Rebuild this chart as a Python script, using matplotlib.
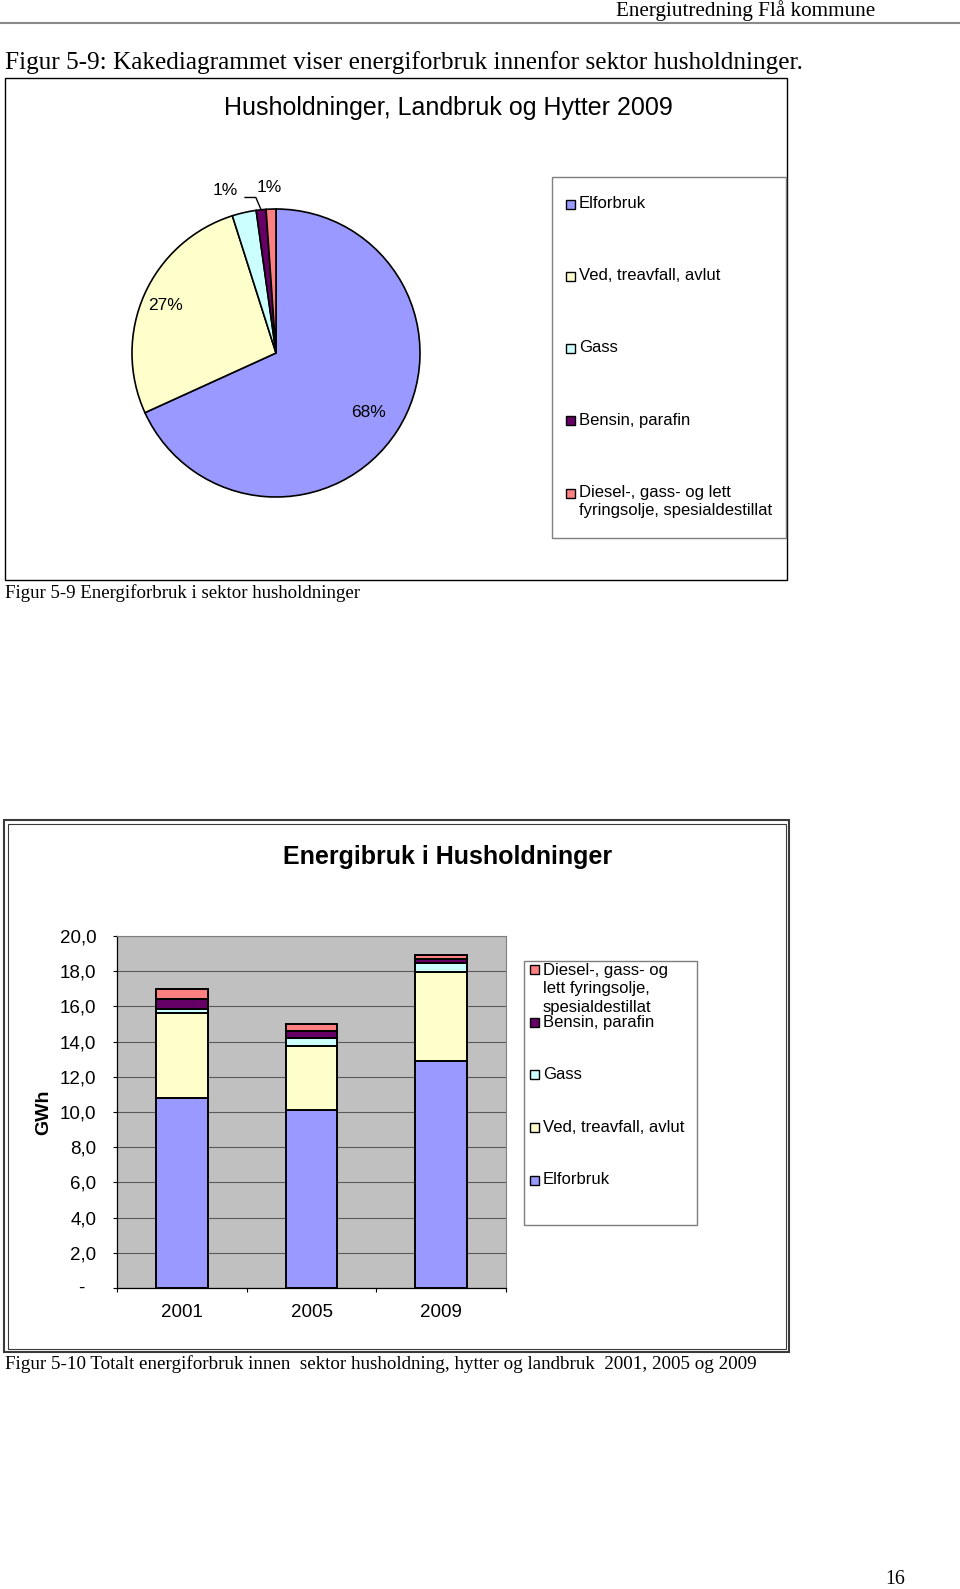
import textwrap
import numpy as np
import matplotlib
matplotlib.use("Agg")
import matplotlib.pyplot as plt
from matplotlib.patches import Rectangle
from matplotlib.lines import Line2D
from matplotlib.transforms import blended_transform_factory

# ---------------- data ----------------
series = ["Elforbruk", "Ved, treavfall, avlut", "Gass", "Bensin, parafin",
          "Diesel-, gass- og lett fyringsolje, spesialdestillat"]
colors = ["#9999FF", "#FFFFCC", "#CCFFFF", "#660066", "#FF8080"]

pie_title = "Husholdninger, Landbruk og Hytter 2009"
pie_pct = [68.2, 26.9, 2.7, 1.1, 1.1]
pie_labels = ["68%", "27%", "", "1%", "1%"]

bar_title = "Energibruk i Husholdninger"
years = ["2001", "2005", "2009"]
elforbruk = [10.8, 10.1, 12.9]
ved = [4.85, 3.65, 5.05]
gass = [0.2, 0.45, 0.5]
bensin = [0.55, 0.4, 0.25]
diesel = [0.6, 0.4, 0.2]
bar_series = [elforbruk, ved, gass, bensin, diesel]
yticks = [0, 2, 4, 6, 8, 10, 12, 14, 16, 18, 20]
ytick_labels = ["", "2,0", "4,0", "6,0", "8,0", "10,0", "12,0", "14,0", "16,0", "18,0", "20,0"]
y_label = "GWh"

header = "Energiutredning Flå kommune"
heading = "Figur 5-9: Kakediagrammet viser energiforbruk innenfor sektor husholdninger."
caption1 = "Figur 5-9 Energiforbruk i sektor husholdninger"
caption2 = "Figur 5-10 Totalt energiforbruk innen  sektor husholdning, hytter og landbruk  2001, 2005 og 2009"
page_no = "16"

# ---------------- layout helpers ----------------
W, H, DPI = 960, 1589, 100
SANS = "Liberation Sans"
SERIF = "Liberation Serif"
fig = plt.figure(figsize=(W / DPI, H / DPI), dpi=DPI)
fig.patch.set_facecolor("white")


def fx(px):
    return px / W


def fy(py):
    return 1 - py / H


def add_ax(x0, y0, x1, y1):
    return fig.add_axes([x0 / W, 1 - y1 / H, (x1 - x0) / W, (y1 - y0) / H])


def frect(x0, y0, x1, y1, **kw):
    r = Rectangle((fx(x0), fy(y1)), (x1 - x0) / W, (y1 - y0) / H,
                  transform=fig.transFigure, **kw)
    fig.add_artist(r)
    return r


def fit_text(x, y, s, width_px, **kw):
    t = fig.text(fx(x), fy(y), s, fontsize=12, **kw)
    r = fig.canvas.get_renderer()
    w = t.get_window_extent(r).width
    t.set_fontsize(12 * width_px / w)
    return t


def wrap(s, n):
    return textwrap.wrap(s, n, break_on_hyphens=False)


# ---------------- page texts ----------------
fit_text(875, 11, header, 258, family=SERIF, ha="right", va="center")
fig.add_artist(Line2D([0, 1], [fy(22.5), fy(22.5)], transform=fig.transFigure,
                      color="#8a8a8a", lw=1.5))
fit_text(5, 63, heading, 796, family=SERIF, ha="left", va="center")
fit_text(5, 593, caption1, 355, family=SERIF, ha="left", va="center")
fit_text(5, 1364.5, caption2, 747, family=SERIF, ha="left", va="center")
fit_text(905, 1579, page_no, 20, family=SERIF, ha="right", va="center")

# ---------------- pie chart ----------------
frect(5, 78, 787, 580, fill=False, ec="black", lw=1.0)
fig.text(fx(448), fy(107.5), pie_title, family=SANS, fontsize=18,
         ha="center", va="center")

cx, cy, R = 276, 353, 144
axp = add_ax(cx - R, cy - R, cx + R, cy + R)
wedges, _ = axp.pie(pie_pct, colors=colors, startangle=90, counterclock=False,
                    radius=1, wedgeprops=dict(edgecolor="black", linewidth=1.2))
axp.set_xlim(-1, 1)
axp.set_ylim(-1, 1)
axp.set_aspect("equal")
axp.axis("off")

label_pos = [(0.64, -0.41), (-0.77, 0.33), None, (-0.355, 1.13), (-0.05, 1.15)]
for i, (lab, pos) in enumerate(zip(pie_labels, label_pos)):
    if not lab or pos is None:
        continue
    axp.text(pos[0], pos[1], lab, family=SANS, fontsize=12.5, ha="center",
             va="center", clip_on=False)
# leader line for the Bensin label
w = wedges[3]
mid = np.deg2rad((w.theta1 + w.theta2) / 2)
ex, ey = np.cos(mid), np.sin(mid)
lx, ly = label_pos[3]
axp.plot([lx + 0.14, lx + 0.215, ex], [ly - 0.05, ly - 0.05, ey],
         color="black", lw=1.0, clip_on=False)

# pie legend
frect(552, 177, 786, 538, fill=False, ec="#7f7f7f", lw=1.0)
pie_leg_y = [204, 276, 348, 420, 493]
for name, col, y0 in zip(series, colors, pie_leg_y):
    frect(566, y0 - 4.5, 575, y0 + 4.5, fc=col, ec="black", lw=1.0)
    for j, ln in enumerate(wrap(name, 29)):
        fig.text(fx(579), fy(y0 + j * 18), ln, family=SANS, fontsize=12,
                 ha="left", va="center")

# ---------------- bar chart ----------------
frect(4, 820, 789, 1352, fill=False, ec="#3a3a3a", lw=1.5)
frect(7.5, 823.5, 785.5, 1348.5, fill=False, ec="#3a3a3a", lw=0.8)
fig.text(fx(448), fy(857), bar_title, family=SANS, fontsize=18,
         fontweight="bold", ha="center", va="center")
fig.text(fx(44), fy(1112), y_label, family=SANS, fontsize=14,
         fontweight="bold", rotation=90, ha="center", va="center")

axb = add_ax(117, 936, 506, 1288)
axb.set_facecolor("#C0C0C0")
x = np.arange(len(years))
bottom = np.zeros(len(years))
for vals, col in zip(bar_series, colors):
    axb.bar(x, vals, 0.4, bottom=bottom, color=col, edgecolor="black",
            linewidth=1.4, zorder=3)
    bottom = bottom + np.array(vals)

axb.set_xlim(-0.5, len(years) - 0.5)
axb.set_ylim(0, 20)
axb.set_yticks(yticks, ytick_labels)
axb.yaxis.grid(True, color="#5a5a5a", lw=0.8)
axb.set_axisbelow(True)
axb.tick_params(axis="y", direction="out", length=3, width=0.8, pad=12,
                labelsize=13.5, labelfontfamily=SANS)
axb.set_xticks(x, years)
axb.set_xticks(np.arange(-0.5, len(years)), minor=True)
axb.tick_params(axis="x", which="major", length=0, pad=11.5, labelsize=13.5,
                labelfontfamily=SANS)
axb.tick_params(axis="x", which="minor", direction="out", length=3, width=0.8)
for s in ["left", "bottom"]:
    axb.spines[s].set_color("black")
    axb.spines[s].set_linewidth(0.9)
for s in ["top", "right"]:
    axb.spines[s].set_color("#808080")
    axb.spines[s].set_linewidth(0.8)
axb.text(-0.0913, 0, "-", transform=blended_transform_factory(axb.transAxes, axb.transData),
         family=SANS, fontsize=13.5, ha="center", va="center")

# bar legend (reverse order)
frect(524, 961, 697, 1225, fill=False, ec="#7f7f7f", lw=1.0)
bar_leg_y = [970, 1022, 1074.5, 1127, 1180]
for name, col, y0 in zip(series[::-1], colors[::-1], bar_leg_y):
    frect(530, y0 - 4.5, 538.5, y0 + 4.5, fc=col, ec="black", lw=1.0)
    for j, ln in enumerate(wrap(name, 21)):
        fig.text(fx(543), fy(y0 + j * 18.8), ln, family=SANS, fontsize=12,
                 ha="left", va="center")

fig.savefig("out.png", dpi=DPI, facecolor="white")
